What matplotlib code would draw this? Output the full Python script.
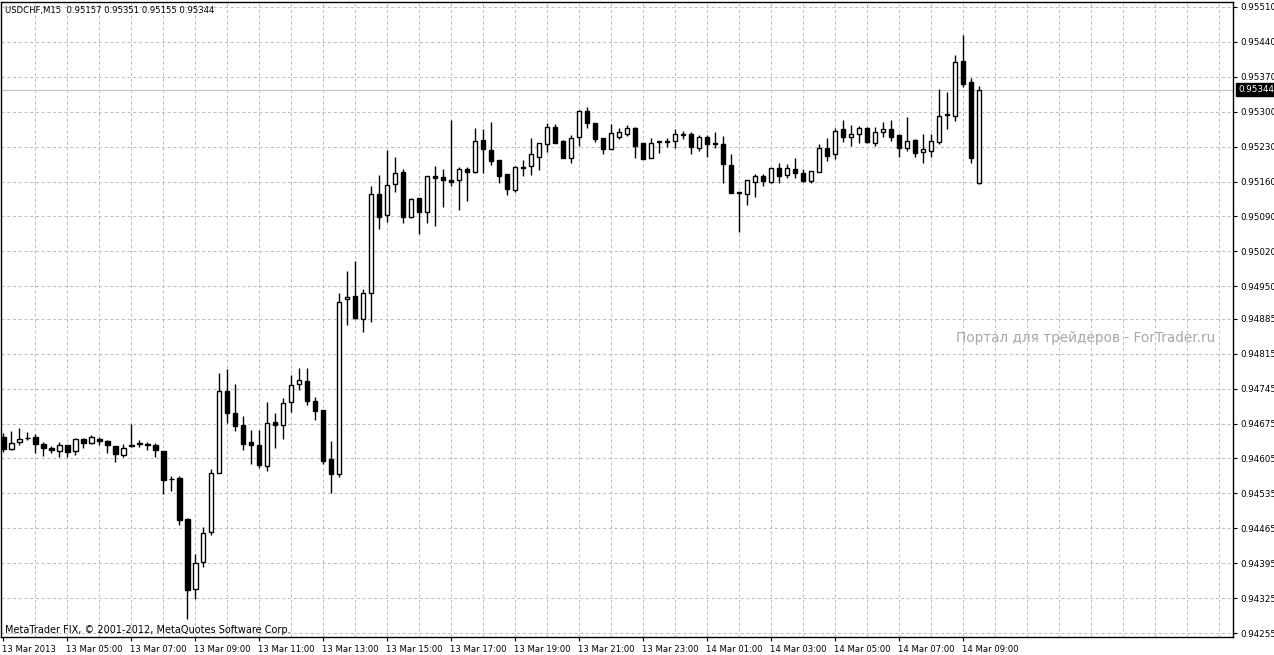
import numpy as np
import matplotlib.pyplot as plt
import matplotlib.transforms as mtransforms

# USDCHF M15, bars from 13 Mar 2013 03:00 to 14 Mar 2013 09:30
opens = [0.94648, 0.94623, 0.94638, 0.94646, 0.94648, 0.94634, 0.94626, 0.94619, 0.94631, 0.94619,
         0.94644, 0.94636, 0.94644, 0.94640, 0.94629, 0.94612, 0.94632, 0.94633, 0.94633, 0.94631,
         0.94619, 0.94564, 0.94565, 0.94484, 0.94344, 0.94397, 0.94457, 0.94575, 0.94741, 0.94696,
         0.94672, 0.94638, 0.94631, 0.94590, 0.94679, 0.94672, 0.94719, 0.94755, 0.94761, 0.94721,
         0.94702, 0.94604, 0.94573, 0.94924, 0.94930, 0.94884, 0.94936, 0.95136, 0.95092, 0.95156,
         0.95179, 0.95089, 0.95128, 0.95100, 0.95171, 0.95169, 0.95163, 0.95163, 0.95185, 0.95180,
         0.95243, 0.95223, 0.95203, 0.95175, 0.95143, 0.95189, 0.95191, 0.95210, 0.95235, 0.95269,
         0.95241, 0.95207, 0.95249, 0.95301, 0.95278, 0.95247, 0.95225, 0.95250, 0.95255, 0.95267,
         0.95237, 0.95207, 0.95239, 0.95242, 0.95242, 0.95255, 0.95255, 0.95227, 0.95249, 0.95237,
         0.95235, 0.95193, 0.95139, 0.95136, 0.95160, 0.95171, 0.95160, 0.95188, 0.95173, 0.95186,
         0.95178, 0.95161, 0.95179, 0.95227, 0.95215, 0.95265, 0.95249, 0.95255, 0.95267, 0.95238,
         0.95259, 0.95265, 0.95254, 0.95227, 0.95243, 0.95220, 0.95222, 0.95240, 0.95295, 0.95292,
         0.95402, 0.95359, 0.95157]
highs = [0.94655, 0.94660, 0.94665, 0.94658, 0.94653, 0.94638, 0.94629, 0.94638, 0.94632, 0.94645,
         0.94645, 0.94651, 0.94648, 0.94641, 0.94630, 0.94634, 0.94675, 0.94641, 0.94638, 0.94636,
         0.94620, 0.94569, 0.94569, 0.94486, 0.94414, 0.94468, 0.94584, 0.94777, 0.94784, 0.94754,
         0.94690, 0.94662, 0.94662, 0.94718, 0.94696, 0.94726, 0.94772, 0.94786, 0.94786, 0.94729,
         0.94702, 0.94639, 0.94936, 0.94980, 0.95000, 0.94944, 0.95151, 0.95173, 0.95223, 0.95210,
         0.95186, 0.95128, 0.95128, 0.95171, 0.95191, 0.95185, 0.95283, 0.95189, 0.95189, 0.95267,
         0.95265, 0.95279, 0.95203, 0.95175, 0.95191, 0.95203, 0.95247, 0.95237, 0.95278, 0.95275,
         0.95243, 0.95253, 0.95303, 0.95310, 0.95278, 0.95247, 0.95275, 0.95267, 0.95273, 0.95269,
         0.95238, 0.95247, 0.95242, 0.95247, 0.95265, 0.95262, 0.95260, 0.95253, 0.95253, 0.95259,
         0.95251, 0.95215, 0.95140, 0.95163, 0.95175, 0.95175, 0.95187, 0.95198, 0.95195, 0.95207,
         0.95185, 0.95181, 0.95235, 0.95247, 0.95267, 0.95283, 0.95273, 0.95271, 0.95269, 0.95269,
         0.95279, 0.95283, 0.95255, 0.95290, 0.95245, 0.95255, 0.95255, 0.95346, 0.95339, 0.95414,
         0.95454, 0.95368, 0.95351]
lows = [0.94618, 0.94621, 0.94631, 0.94641, 0.94615, 0.94610, 0.94615, 0.94608, 0.94607, 0.94612,
        0.94626, 0.94633, 0.94631, 0.94615, 0.94597, 0.94608, 0.94627, 0.94627, 0.94621, 0.94608,
        0.94534, 0.94539, 0.94472, 0.94283, 0.94324, 0.94387, 0.94452, 0.94575, 0.94676, 0.94660,
        0.94622, 0.94594, 0.94586, 0.94579, 0.94626, 0.94644, 0.94699, 0.94742, 0.94712, 0.94682,
        0.94594, 0.94536, 0.94567, 0.94872, 0.94884, 0.94859, 0.94879, 0.95064, 0.95079, 0.95139,
        0.95077, 0.95087, 0.95055, 0.95076, 0.95071, 0.95110, 0.95151, 0.95104, 0.95122, 0.95178,
        0.95177, 0.95193, 0.95157, 0.95134, 0.95140, 0.95171, 0.95173, 0.95183, 0.95220, 0.95238,
        0.95208, 0.95197, 0.95232, 0.95267, 0.95240, 0.95215, 0.95225, 0.95245, 0.95251, 0.95208,
        0.95205, 0.95207, 0.95218, 0.95230, 0.95227, 0.95245, 0.95215, 0.95221, 0.95209, 0.95227,
        0.95158, 0.95138, 0.95058, 0.95114, 0.95130, 0.95152, 0.95158, 0.95158, 0.95168, 0.95168,
        0.95160, 0.95157, 0.95179, 0.95202, 0.95205, 0.95240, 0.95232, 0.95238, 0.95237, 0.95232,
        0.95250, 0.95242, 0.95210, 0.95221, 0.95210, 0.95197, 0.95210, 0.95235, 0.95266, 0.95282,
        0.95350, 0.95197, 0.95155]
closes = [0.94624, 0.94636, 0.94644, 0.94645, 0.94634, 0.94625, 0.94621, 0.94631, 0.94617, 0.94644,
          0.94636, 0.94648, 0.94640, 0.94631, 0.94614, 0.94626, 0.94629, 0.94636, 0.94632, 0.94621,
          0.94562, 0.94563, 0.94481, 0.94342, 0.94396, 0.94455, 0.94575, 0.94741, 0.94696, 0.94670,
          0.94634, 0.94632, 0.94591, 0.94677, 0.94672, 0.94717, 0.94753, 0.94763, 0.94720, 0.94700,
          0.94600, 0.94574, 0.94919, 0.94928, 0.94886, 0.94936, 0.95135, 0.95089, 0.95153, 0.95178,
          0.95089, 0.95126, 0.95100, 0.95171, 0.95168, 0.95163, 0.95160, 0.95185, 0.95180, 0.95241,
          0.95225, 0.95202, 0.95172, 0.95146, 0.95189, 0.95188, 0.95215, 0.95237, 0.95269, 0.95238,
          0.95208, 0.95247, 0.95301, 0.95277, 0.95245, 0.95225, 0.95257, 0.95259, 0.95267, 0.95232,
          0.95205, 0.95237, 0.95242, 0.95240, 0.95255, 0.95253, 0.95229, 0.95249, 0.95235, 0.95235,
          0.95195, 0.95138, 0.95138, 0.95163, 0.95171, 0.95162, 0.95187, 0.95172, 0.95188, 0.95177,
          0.95161, 0.95181, 0.95227, 0.95212, 0.95262, 0.95250, 0.95255, 0.95267, 0.95240, 0.95259,
          0.95265, 0.95250, 0.95227, 0.95241, 0.95218, 0.95225, 0.95242, 0.95292, 0.95294, 0.95399,
          0.95356, 0.95208, 0.95344]

price_labels = ['0.95510', '0.95440', '0.95370', '0.95300', '0.95230', '0.95160', '0.95090',
                '0.95020', '0.94950', '0.94885', '0.94815', '0.94745', '0.94675', '0.94605',
                '0.94535', '0.94465', '0.94395', '0.94325', '0.94255']
time_labels = ['13 Mar 2013', '13 Mar 05:00', '13 Mar 07:00', '13 Mar 09:00', '13 Mar 11:00',
               '13 Mar 13:00', '13 Mar 15:00', '13 Mar 17:00', '13 Mar 19:00', '13 Mar 21:00',
               '13 Mar 23:00', '14 Mar 01:00', '14 Mar 03:00', '14 Mar 05:00', '14 Mar 07:00',
               '14 Mar 09:00']
last_price = 0.95344
header = 'USDCHF,M15  0.95157 0.95351 0.95155 0.95344'

W, H = 1274, 655
fig = plt.figure(figsize=(W / 100, H / 100), dpi=100)
ax = fig.add_axes([0.5 / W, 18 / H, 1232.5 / W, 635 / H])

n = len(opens)
x = np.arange(n)
o = np.array(opens)
c = np.array(closes)
up = c >= o

ax.set_xlim(-0.375, 153.75)
ax.set_ylim(0.94247, 0.95520)

# grid
grid_kw = dict(color='#c0c0c0', lw=0.75, dashes=(3, 2.5), zorder=0)
for k in range(4, 154, 4):
    ax.axvline(k, **grid_kw)
for p in price_labels:
    ax.axhline(float(p), **grid_kw)

# current bid line
ax.axhline(last_price, color='#c0c0c0', lw=0.75, zorder=1)

# candles
ax.vlines(x, lows, highs, color='black', lw=1.0, zorder=2)
ax.bar(x[up], (c - o)[up], bottom=o[up], width=0.52, color='white', edgecolor='black', lw=1.0, zorder=3)
ax.bar(x[~up], (o - c)[~up], bottom=c[~up], width=0.52, color='black', edgecolor='black', lw=1.0, zorder=3)

for s in ax.spines.values():
    s.set_color('black')
    s.set_linewidth(1)

ax.yaxis.tick_right()
ax.set_yticks([float(p) for p in price_labels])
ax.set_yticklabels(price_labels)
ax.tick_params(axis='y', direction='out', length=3, width=0.8, pad=2, labelsize=6.3)

ax.set_xticks(np.arange(0, 8 * len(time_labels), 8))
ax.set_xticklabels(time_labels, ha='left')
ax.tick_params(axis='x', direction='out', length=3, width=0.8, pad=3, labelsize=6.1)
shift = mtransforms.ScaledTranslation(-1 / 100, 0, fig.dpi_scale_trans)
for lbl in ax.get_xticklabels():
    lbl.set_transform(lbl.get_transform() + shift)

# bid price marker on the axis
ax.annotate(f'{last_price:.5f}', xy=(1, last_price), xycoords=('axes fraction', 'data'),
            xytext=(4, 0), textcoords='offset points', va='center', ha='left',
            fontsize=6.3, color='white',
            bbox=dict(boxstyle='square,pad=0.25', fc='black', ec='black'))

fig.text(5 / W, 1 - 10 / H, header, fontsize=6.1, va='center', ha='left')
fig.text(5 / W, 1 - 630 / H, 'MetaTrader FIX, © 2001-2012, MetaQuotes Software Corp.',
         fontsize=7, va='center', ha='left')
fig.text(1215 / W, 1 - 338 / H, 'Портал для трейдеров - ForTrader.ru', fontsize=9.8,
         color='#a8a8a8', va='center', ha='right')

fig.savefig('out.png', dpi=100)
